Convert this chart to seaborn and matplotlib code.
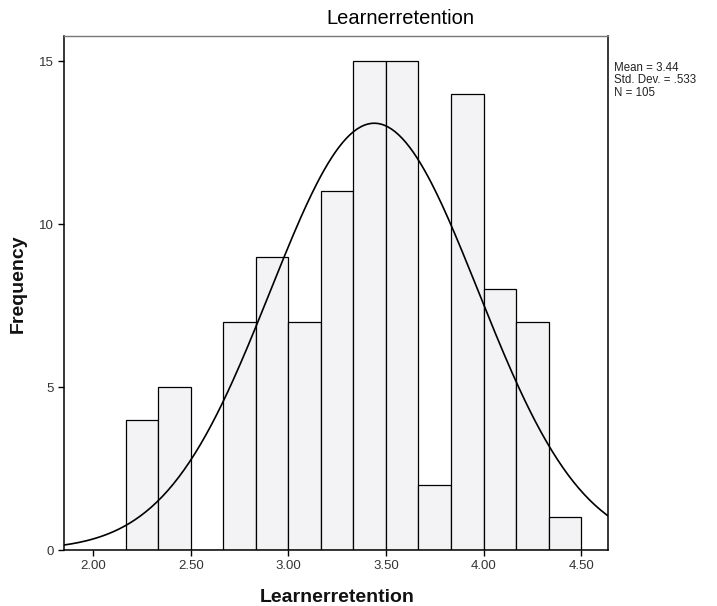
import matplotlib
matplotlib.use("Agg")
import matplotlib.pyplot as plt
import numpy as np
import pandas as pd
import seaborn as sns

# histogram data
bin_edges = [2.1667, 2.3333, 2.5, 2.6667, 2.8333, 3.0, 3.1667, 3.3333,
             3.5, 3.6667, 3.8333, 4.0, 4.1667, 4.3333, 4.5]
counts = [4, 5, 0, 7, 9, 7, 11, 15, 15, 2, 14, 8, 7, 1]

# summary stats shown in the legend box
mean_val = 3.44
sd_val = 0.533
n_val = 105

x_ticks = [2.0, 2.5, 3.0, 3.5, 4.0, 4.5]
y_ticks = [0, 5, 10, 15]

sns.set_style("white")
plt.rcParams['font.family'] = ['Liberation Sans', 'DejaVu Sans']

centers = [(a + b) / 2 for a, b in zip(bin_edges[:-1], bin_edges[1:])]
df = pd.DataFrame({"Learnerretention": centers, "count": counts})

fig = plt.figure(figsize=(7.17, 6.06), dpi=100)
ax = fig.add_axes([0.0893, 0.0924, 0.7587, 0.8482])

sns.histplot(data=df, x="Learnerretention", weights="count", bins=bin_edges,
             color="#f3f3f5", edgecolor="black", linewidth=0.9, alpha=1, ax=ax)

# fitted normal curve (SPSS style, scaled to counts)
xlo, xhi = 1.85, 4.638
bw = bin_edges[1] - bin_edges[0]
xs = np.linspace(xlo, xhi, 300)
ys = n_val * bw / (sd_val * np.sqrt(2 * np.pi)) * np.exp(-0.5 * ((xs - mean_val) / sd_val) ** 2)
sns.lineplot(x=xs, y=ys, color="black", linewidth=1.2, ax=ax)

ax.set_xlim(xlo, xhi)
ax.set_ylim(0, 15.77)
ax.set_xticks(x_ticks)
ax.set_xticklabels(["%.2f" % t for t in x_ticks])
ax.set_yticks(y_ticks)
ax.tick_params(axis="both", direction="out", length=4, width=1, labelsize=9.5,
               colors="black", labelcolor="#333333", left=True, bottom=True)
ax.set_xlabel("")
ax.set_ylabel("")

for s in ["left", "bottom", "right"]:
    ax.spines[s].set_color("black")
    ax.spines[s].set_linewidth(1.1)
ax.spines["top"].set_color("#777777")
ax.spines["top"].set_linestyle((0, (2, 1)))
ax.spines["top"].set_linewidth(1.0)

fig.text(400 / 717, 1 - 18 / 606, "Learnerretention", ha="center", va="center",
         fontsize=14.5, color="black")
fig.text(337 / 717, 1 - 597 / 606, "Learnerretention", ha="center", va="center",
         fontsize=14, fontweight="bold", color="#111111")
fig.text(18 / 717, 1 - 284 / 606, "Frequency", ha="center", va="center",
         rotation=90, fontsize=14, fontweight="bold", color="#111111")
fig.text(614 / 717, 1 - 62 / 606,
         "Mean = %.2f\nStd. Dev. = %s\nN = %d" % (mean_val, ("%.3f" % sd_val)[1:], n_val),
         ha="left", va="top", fontsize=8.3, linespacing=1.05, color="#222222")

fig.savefig("out.png", dpi=100, facecolor="white")
